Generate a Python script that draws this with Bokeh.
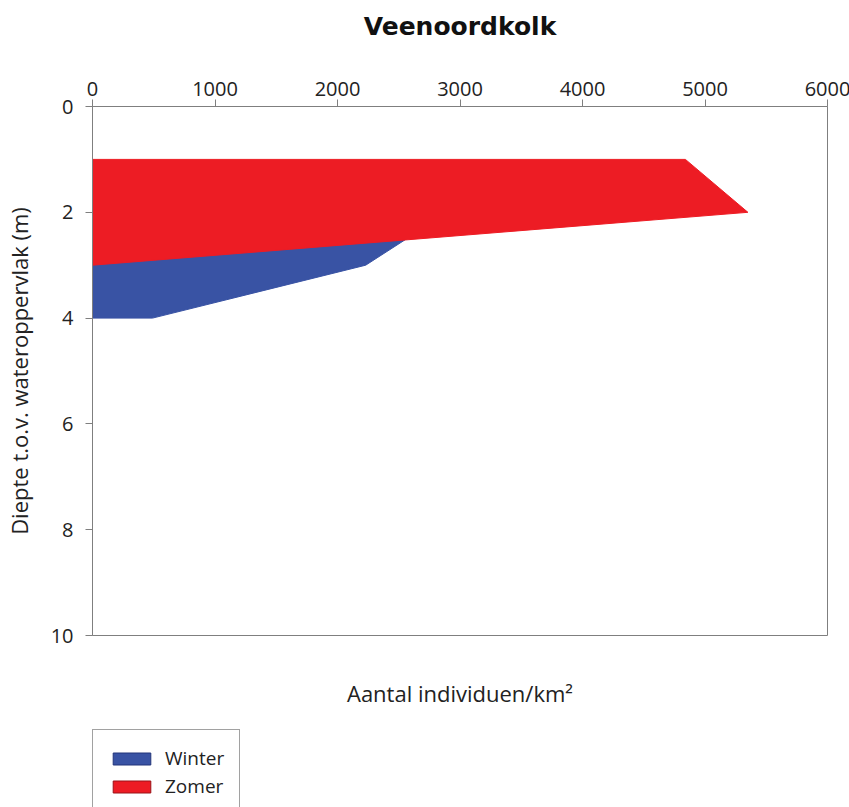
from bokeh.plotting import figure
from bokeh.models import Range1d, LinearAxis, FixedTicker, Legend, LegendItem
from bokeh.layouts import column
from bokeh.embed import file_html
from bokeh.resources import INLINE

# ---- data ----
title = "Veenoordkolk"
x_label = "Aantal individuen/km²"
y_label = "Diepte t.o.v. wateroppervlak (m)"

winter_depth = [2, 2, 3, 4, 4]
winter_count = [0, 2900, 2230, 490, 0]

zomer_depth = [1, 1, 2, 3]
zomer_count = [0, 4840, 5350, 0]

x_ticks = [0, 1000, 2000, 3000, 4000, 5000, 6000]
y_ticks = [0, 2, 4, 6, 8, 10]

BLUE = "#3953a4"
RED = "#ed1c24"
FONT = "Open Sans"
TXT = "#222222"

p = figure(frame_width=735, frame_height=529, output_backend="svg", toolbar_location=None,
           x_range=Range1d(0, 6000), y_range=Range1d(10, 0),
           x_axis_location="above",
           min_border_left=91, min_border_right=23,
           min_border_top=106, min_border_bottom=94)

p.xgrid.visible = False
p.ygrid.visible = False
p.outline_line_color = "#7f7f7f"
p.outline_line_width = 1
p.background_fill_color = "white"
p.border_fill_color = "white"

for ax in (p.xaxis[0], p.yaxis[0]):
    ax.axis_line_color = "#7f7f7f"
    ax.major_tick_line_color = "#7f7f7f"
    ax.major_tick_out = 7
    ax.major_tick_in = 0
    ax.minor_tick_line_color = None
    ax.major_label_text_font = FONT
    ax.major_label_text_font_size = "20px"
    ax.major_label_text_color = TXT
    ax.axis_label_text_font = FONT
    ax.axis_label_text_font_size = "22px"
    ax.axis_label_text_font_style = "normal"
    ax.axis_label_text_color = TXT

# top axis: carries the chart title as its label
top = p.xaxis[0]
top.ticker = FixedTicker(ticks=x_ticks)
top.major_label_standoff = 4
top.axis_label = title
top.axis_label_text_font = "DejaVu Sans"
top.axis_label_text_font_style = "bold"
top.axis_label_text_font_size = "25px"
top.axis_label_text_color = "#111111"
top.axis_label_standoff = 38

p.yaxis[0].ticker = FixedTicker(ticks=y_ticks)
p.yaxis[0].major_label_standoff = 12
p.yaxis[0].axis_label = y_label
p.yaxis[0].axis_label_standoff = 14

xb = LinearAxis(ticker=FixedTicker(ticks=[]), axis_line_color=None,
                major_tick_out=0, major_tick_in=0, major_label_standoff=0,
                major_tick_line_color=None, minor_tick_line_color=None,
                axis_label=x_label, axis_label_text_font=FONT,
                axis_label_text_font_size="22px", axis_label_text_font_style="normal",
                axis_label_text_color=TXT, axis_label_standoff=42)
p.add_layout(xb, "below")

p.patch(x=winter_count, y=winter_depth, fill_color=BLUE, line_color=BLUE, line_width=1)
p.patch(x=zomer_count, y=zomer_depth, fill_color=RED, line_color=RED, line_width=1)

# ---- legend, in its own strip under the chart ----
lg = figure(width=849, height=90, output_backend="svg", toolbar_location=None,
            x_axis_location=None, y_axis_location=None,
            min_border_left=90, min_border_right=0, min_border_top=0, min_border_bottom=0)
lg.xgrid.visible = False
lg.ygrid.visible = False
lg.outline_line_color = None
lg.background_fill_color = "white"
lg.border_fill_color = "white"

l_w = lg.patch(x=winter_count, y=winter_depth, fill_color=BLUE, line_color="#23357a", visible=False)
l_z = lg.patch(x=zomer_count, y=zomer_depth, fill_color=RED, line_color="#9a1218", visible=False)

legend = Legend(items=[LegendItem(label="Winter", renderers=[l_w]),
                       LegendItem(label="Zomer", renderers=[l_z])],
                location="top_left", orientation="vertical",
                glyph_width=47, glyph_height=15, label_height=15,
                label_standoff=10, spacing=2, padding=15, margin=0,
                label_text_font=FONT, label_text_font_size="19px",
                label_text_color=TXT,
                border_line_color="#444444", border_line_width=1,
                background_fill_color="white", background_fill_alpha=1)
lg.add_layout(legend, "center")

layout = column(p, lg, spacing=0)
open("out.html", "w").write(file_html(layout, INLINE))
